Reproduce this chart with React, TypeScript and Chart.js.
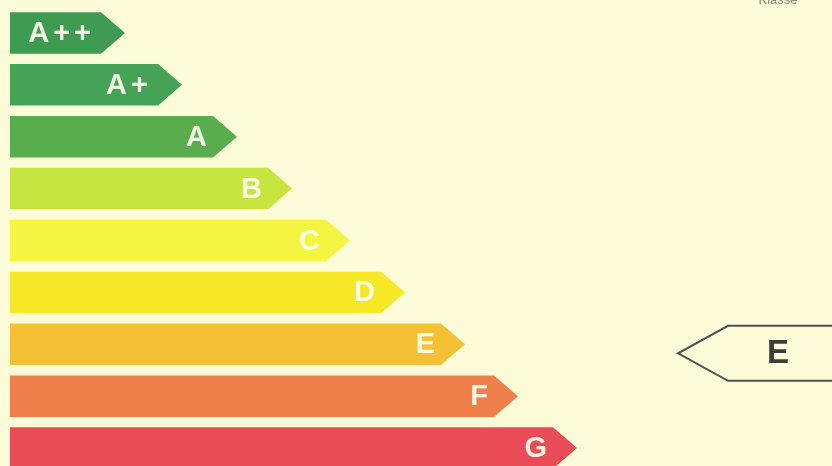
import React, { useEffect, useRef } from "react";
import { Chart, registerables } from "chart.js";

Chart.register(...registerables);

const classes = ["A++", "A+", "A", "B", "C", "D", "E", "F", "G"];
const barLengths = [115, 172, 227, 282, 340, 395, 455, 508, 567];
const barColors = [
  "#3f9b52",
  "#46a254",
  "#5aad4c",
  "#c6e53e",
  "#f4f542",
  "#f6e826",
  "#f3c036",
  "#ef804c",
  "#ea4c57",
];
const ratedClass = "E";
const ratedPosition = 668;
const headerText = "Klasse";
const BG = "#fcfcd9";

const energyPlugin = {
  id: "energyLabel",
  beforeDraw(chart: any) {
    const ctx = chart.ctx;
    ctx.save();
    ctx.fillStyle = BG;
    ctx.fillRect(0, 0, chart.width, chart.height);
    ctx.restore();
  },
  afterDatasetsDraw(chart: any) {
    const ctx = chart.ctx;
    const meta = chart.getDatasetMeta(0);
    ctx.save();
    meta.data.forEach((el: any, i: number) => {
      const { x, y, base, height } = el.getProps(["x", "y", "base", "height"], true);
      const top = y - height / 2;
      const bottom = y + height / 2;
      const tip = 24;
      ctx.beginPath();
      ctx.moveTo(base, top);
      ctx.lineTo(x - tip, top);
      ctx.lineTo(x, y);
      ctx.lineTo(x - tip, bottom);
      ctx.lineTo(base, bottom);
      ctx.closePath();
      ctx.fillStyle = barColors[i];
      ctx.fill();
      ctx.fillStyle = "rgba(255,255,240,0.92)";
      ctx.font = "bold 29px 'Liberation Sans', Arial, sans-serif";
      ctx.textAlign = "right";
      ctx.textBaseline = "middle";
      (ctx as any).letterSpacing = classes[i].length > 1 ? "4px" : "0px";
      ctx.fillText(classes[i], x - 30, y + 1);
    });
    (ctx as any).letterSpacing = "0px";

    const xS = chart.scales.x;
    const yS = chart.scales.y;
    const cy = yS.getPixelForValue(classes.indexOf(ratedClass)) + 9;
    const left = xS.getPixelForValue(ratedPosition);
    const h = 55;
    const right = chart.width + 10;
    ctx.beginPath();
    ctx.moveTo(right, cy - h / 2);
    ctx.lineTo(left + 50, cy - h / 2);
    ctx.lineTo(left, cy);
    ctx.lineTo(left + 50, cy + h / 2);
    ctx.lineTo(right, cy + h / 2);
    ctx.fillStyle = BG;
    ctx.fill();
    ctx.strokeStyle = "#505050";
    ctx.lineWidth = 2;
    ctx.stroke();
    ctx.fillStyle = "#3c3c3c";
    ctx.font = "bold 33px 'Liberation Sans', Arial, sans-serif";
    ctx.textAlign = "center";
    ctx.textBaseline = "middle";
    ctx.fillText(ratedClass, left + 100, cy + 1);

    ctx.fillStyle = "#8a8a80";
    ctx.font = "13px 'Liberation Sans', Arial, sans-serif";
    ctx.textAlign = "center";
    ctx.textBaseline = "alphabetic";
    ctx.fillText(headerText, 778, 4);
    ctx.restore();
  },
};

export default function App() {
  const ref = useRef<HTMLCanvasElement | null>(null);
  useEffect(() => {
    document.body.style.margin = "0";
    document.body.style.overflow = "hidden";
    document.body.style.background = BG;
    const chart = new Chart(ref.current as HTMLCanvasElement, {
      type: "bar",
      data: {
        labels: classes,
        datasets: [
          {
            data: barLengths,
            backgroundColor: "rgba(0,0,0,0)",
            borderWidth: 0,
            barPercentage: 0.8,
            categoryPercentage: 1,
          },
        ],
      },
      options: {
        indexAxis: "y",
        animation: false,
        responsive: false,
        layout: { padding: { left: 10, right: 0, top: 7, bottom: 6 } },
        plugins: { legend: { display: false }, tooltip: { enabled: false } },
        scales: {
          x: { display: false, min: 0, max: 822 },
          y: { display: false },
        },
      },
      plugins: [energyPlugin],
    });
    return () => chart.destroy();
  }, []);
  return (
    <div style={{ position: "fixed", left: 0, top: 0, width: 832, height: 466, overflow: "hidden", background: BG }}>
      <canvas ref={ref} width={832} height={480} style={{ display: "block" }} />
    </div>
  );
}
